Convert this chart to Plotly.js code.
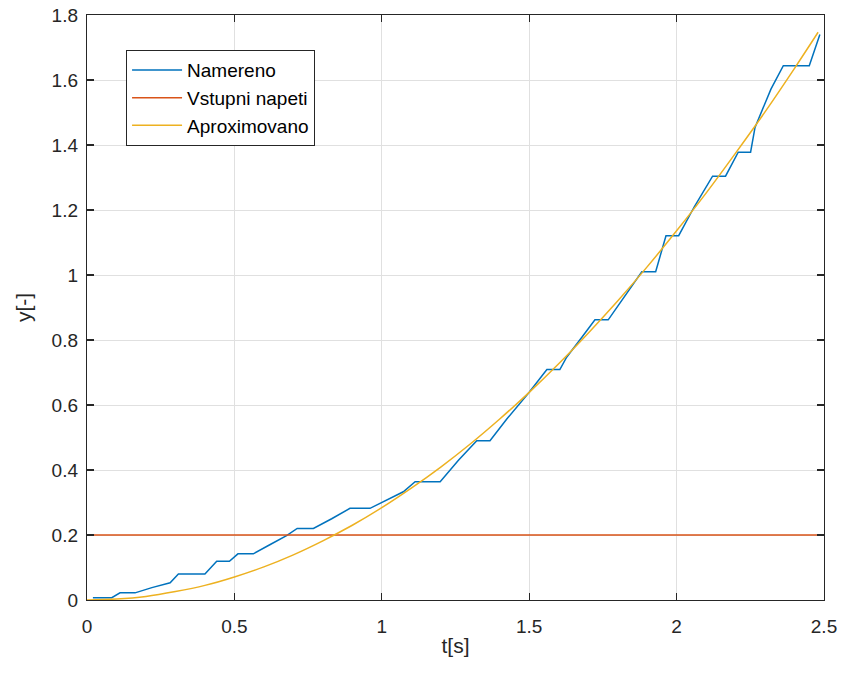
<!DOCTYPE html>
<html>
<head>
<meta charset="utf-8">
<script src="https://cdn.plot.ly/plotly-3.0.1.min.js"></script>
<style>
  html, body { margin: 0; padding: 0; background: #ffffff; }
  #chart { width: 842px; height: 675px; }
</style>
</head>
<body>
<div id="chart"></div>
<script>
// Measured response (step-like sampled output)
const tMeasured = [0.02, 0.084, 0.112, 0.163, 0.22, 0.282, 0.31, 0.40, 0.44, 0.483, 0.512, 0.564,
  0.62, 0.677, 0.713, 0.768, 0.83, 0.892, 0.96, 1.017, 1.073, 1.113, 1.198, 1.26, 1.322, 1.367,
  1.424, 1.50, 1.56, 1.604, 1.627, 1.68, 1.723, 1.768, 1.82, 1.882, 1.929, 1.964, 2.007, 2.06,
  2.122, 2.166, 2.209, 2.251, 2.266, 2.32, 2.362, 2.45, 2.486];
const yMeasured = [0.007, 0.007, 0.022, 0.022, 0.038, 0.053, 0.08, 0.08, 0.119, 0.119, 0.142, 0.142,
  0.17, 0.198, 0.22, 0.22, 0.25, 0.282, 0.282, 0.308, 0.333, 0.364, 0.364, 0.43, 0.49, 0.49,
  0.557, 0.639, 0.709, 0.709, 0.747, 0.81, 0.862, 0.862, 0.93, 1.01, 1.01, 1.121, 1.121, 1.21,
  1.304, 1.304, 1.378, 1.378, 1.454, 1.572, 1.644, 1.644, 1.74];

// Input voltage (constant)
const tInput = [0, 2.49];
const yInput = [0.2, 0.2];

// Approximated model response
const tApprox = [0, 0.1, 0.2, 0.3, 0.4, 0.5, 0.6, 0.7, 0.8, 0.9, 1.0, 1.1, 1.2, 1.3, 1.4, 1.5,
  1.6, 1.7, 1.8, 1.9, 2.0, 2.1, 2.2, 2.3, 2.4, 2.48];
const yApprox = [0, 0.003, 0.011, 0.026, 0.045, 0.071, 0.102, 0.139, 0.182, 0.230, 0.284, 0.344,
  0.409, 0.480, 0.557, 0.639, 0.727, 0.821, 0.920, 1.025, 1.136, 1.252, 1.375, 1.502, 1.636, 1.747];

const xTicks = [0, 0.5, 1, 1.5, 2, 2.5];
const xTickText = ['0', '0.5', '1', '1.5', '2', '2.5'];
const yTicks = [0, 0.2, 0.4, 0.6, 0.8, 1, 1.2, 1.4, 1.6, 1.8];
const yTickText = ['0', '0.2', '0.4', '0.6', '0.8', '1', '1.2', '1.4', '1.6', '1.8'];

const seriesNames = ['Namereno', 'Vstupni napeti', 'Aproximovano'];
const FONT = '"Liberation Sans", Arial, Helvetica, sans-serif';
const AXIS = '#262626';

const traces = [
  { x: tMeasured, y: yMeasured, name: seriesNames[0], type: 'scatter', mode: 'lines',
    line: { color: '#0072BD', width: 1.5 } },
  { x: tInput, y: yInput, name: seriesNames[1], type: 'scatter', mode: 'lines',
    line: { color: '#D95319', width: 1.5 } },
  { x: tApprox, y: yApprox, name: seriesNames[2], type: 'scatter', mode: 'lines',
    line: { color: '#EDB120', width: 1.5, shape: 'spline' } }
];

const axisCommon = {
  showline: true, linecolor: AXIS, linewidth: 1.2, mirror: 'ticks',
  ticks: 'inside', ticklen: 7, tickwidth: 1.2, tickcolor: AXIS,
  showgrid: true, gridcolor: '#e0e0e0', gridwidth: 1,
  zeroline: false, tickfont: { family: FONT, size: 19, color: AXIS }
};

const layout = {
  width: 842, height: 675,
  margin: { l: 87, r: 18, t: 15, b: 75 },
  paper_bgcolor: '#ffffff', plot_bgcolor: '#ffffff',
  showlegend: true,
  legend: {
    x: 0.053, y: 0.94, xanchor: 'left', yanchor: 'top',
    bgcolor: '#ffffff', bordercolor: AXIS, borderwidth: 1,
    font: { family: FONT, size: 19, color: '#000000' },
    itemwidth: 50
  },
  xaxis: Object.assign({}, axisCommon, {
    range: [0, 2.5], tickvals: xTicks, ticktext: xTickText, ticklabelstandoff: 9,
    title: { text: 't[s]', font: { family: FONT, size: 21, color: AXIS }, standoff: 2 }
  }),
  yaxis: Object.assign({}, axisCommon, {
    range: [0, 1.8], tickvals: yTicks, ticktext: yTickText, ticklabelstandoff: 4,
    title: { text: 'y[-]', font: { family: FONT, size: 21, color: AXIS }, standoff: 14 }
  })
};

Plotly.newPlot('chart', traces, layout, { staticPlot: true, displayModeBar: false });
</script>
</body>
</html>
